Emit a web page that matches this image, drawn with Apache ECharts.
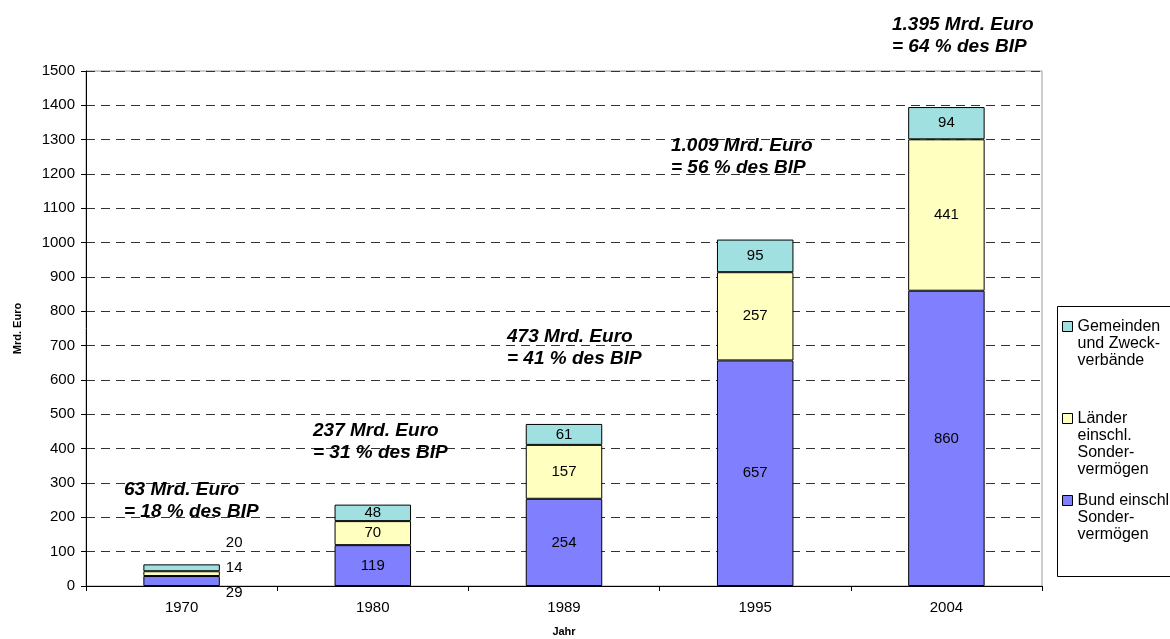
<!DOCTYPE html>
<html>
<head>
<meta charset="utf-8">
<script src="https://cdn.jsdelivr.net/npm/echarts@6/dist/echarts.min.js"></script>
<style>
  html, body { margin: 0; padding: 0; background: #fff; }
  #chart { width: 1170px; height: 639px; }
</style>
</head>
<body>
<div id="chart"></div>
<script>
// Schulden der öffentlichen Haushalte (Mrd. Euro)
const years = ['1970', '1980', '1989', '1995', '2004'];
const bund = [29, 119, 254, 657, 860];
const laender = [14, 70, 157, 257, 441];
const gemeinden = [20, 48, 61, 95, 94];
const totalLines = [
  ['63 Mrd. Euro', '= 18 % des BIP'],
  ['237 Mrd. Euro', '= 31 % des BIP'],
  ['473 Mrd. Euro', '= 41 % des BIP'],
  ['1.009 Mrd. Euro', '= 56 % des BIP'],
  ['1.395 Mrd. Euro', '= 64 % des BIP']
];
const yTicks = { min: 0, max: 1500, step: 100 };

const nameGem = 'Gemeinden\nund Zweck-\nverbände';
const nameLae = 'Länder\neinschl.\nSonder-\nvermögen';
const nameBund = 'Bund einschl.\nSonder-\nvermögen';

const FONT = 'Liberation Sans, Arial, sans-serif';
const LABEL_SIZE = 15;

// first (smallest) column: labels sit to the right of the bar
const firstColOffsets = { bund: 12, laender: -6, gemeinden: -25 };

function toData(values, key) {
  return values.map((v, i) => {
    if (i !== 0) return v;
    return {
      value: v,
      label: { position: 'right', distance: 6, offset: [0, firstColOffsets[key]] }
    };
  });
}

function barSeries(name, values, key, color) {
  return {
    name: name,
    type: 'bar',
    stack: 'total',
    barWidth: '40%',
    data: toData(values, key),
    itemStyle: { color: color, borderColor: '#000', borderWidth: 1 },
    label: {
      show: true,
      position: 'inside',
      color: '#000',
      fontFamily: FONT,
      fontSize: LABEL_SIZE
    },
    emphasis: { disabled: true }
  };
}

// Legend entries: the swatch sits beside the first text line, so the icon
// box spans the whole text block and the square is drawn at its top.
const LINE_H = 17;
function legendFor(name, lines, squareTop) {
  const h = lines * LINE_H;
  return {
    data: [name],
    orient: 'vertical',
    left: 1062,
    top: squareTop - 3.5,
    padding: 0,
    itemWidth: 10,
    itemHeight: h,
    icon: 'path://M0,0M0,3.5H10V13.5H0ZM0,' + h,
    selectedMode: false,
    itemStyle: { borderColor: '#000', borderWidth: 1 },
    textStyle: {
      color: '#000',
      fontFamily: FONT,
      fontSize: 16,
      lineHeight: LINE_H
    }
  };
}

// annotation anchor points (left edge, line centres)
const notePos = [
  [124, 490, 512],
  [313, 431, 453],
  [507, 337, 359],
  [671, 146, 168],
  [892, 25, 47]
];
const noteGraphics = [];
totalLines.forEach((lines, i) => {
  const p = notePos[i];
  lines.forEach((t, j) => {
    noteGraphics.push({
      type: 'text',
      z: 10,
      style: {
        x: p[0], y: p[1 + j], text: t,
        font: 'italic bold 19px ' + FONT,
        fill: '#000',
        verticalAlign: 'middle', align: 'left'
      }
    });
  });
});

const chart = echarts.init(document.getElementById('chart'), null, { renderer: 'canvas' });
chart.setOption({
  animation: false,
  backgroundColor: '#fff',
  grid: {
    left: 86, right: 128, top: 71, bottom: 53,
    outerBoundsMode: 'none',
    containLabel: false,
    show: true, borderColor: '#999', borderWidth: 1
  },
  xAxis: {
    type: 'category',
    data: years,
    boundaryGap: true,
    name: 'Jahr',
    nameLocation: 'middle',
    nameGap: 40,
    nameTextStyle: { fontFamily: FONT, fontWeight: 'bold', fontSize: 11, color: '#000' },
    axisLine: { lineStyle: { color: '#000', width: 1 } },
    axisTick: { show: true, length: 5, alignWithLabel: false, lineStyle: { color: '#000' } },
    axisLabel: { color: '#000', fontFamily: FONT, fontSize: LABEL_SIZE, margin: 14 }
  },
  yAxis: {
    type: 'value',
    min: yTicks.min, max: yTicks.max, interval: yTicks.step,
    name: 'Mrd. Euro',
    nameLocation: 'middle',
    nameGap: 63,
    nameRotate: 90,
    nameTextStyle: { fontFamily: FONT, fontWeight: 'bold', fontSize: 11, color: '#000' },
    axisLine: { show: true, lineStyle: { color: '#000', width: 1 } },
    axisTick: { show: true, length: 5, lineStyle: { color: '#000' } },
    axisLabel: {
      color: '#000', fontFamily: FONT, fontSize: LABEL_SIZE, margin: 11,
      formatter: v => String(v)
    },
    splitLine: { show: true, lineStyle: { color: '#333', width: 1, type: [9, 6] } }
  },
  legend: [
    legendFor(nameGem, 3, 321),
    legendFor(nameLae, 4, 413),
    legendFor(nameBund, 3, 495)
  ],
  graphic: [
    {
      type: 'rect', z: 0, silent: true,
      shape: { x: 1057.5, y: 306.5, width: 140, height: 270 },
      style: { fill: '#fff', stroke: '#000', lineWidth: 1 }
    }
  ].concat(noteGraphics),
  series: [
    barSeries(nameBund, bund, 'bund', '#8080FF'),
    barSeries(nameLae, laender, 'laender', '#FFFFC0'),
    barSeries(nameGem, gemeinden, 'gemeinden', '#A0E0E0')
  ]
});
</script>
</body>
</html>
